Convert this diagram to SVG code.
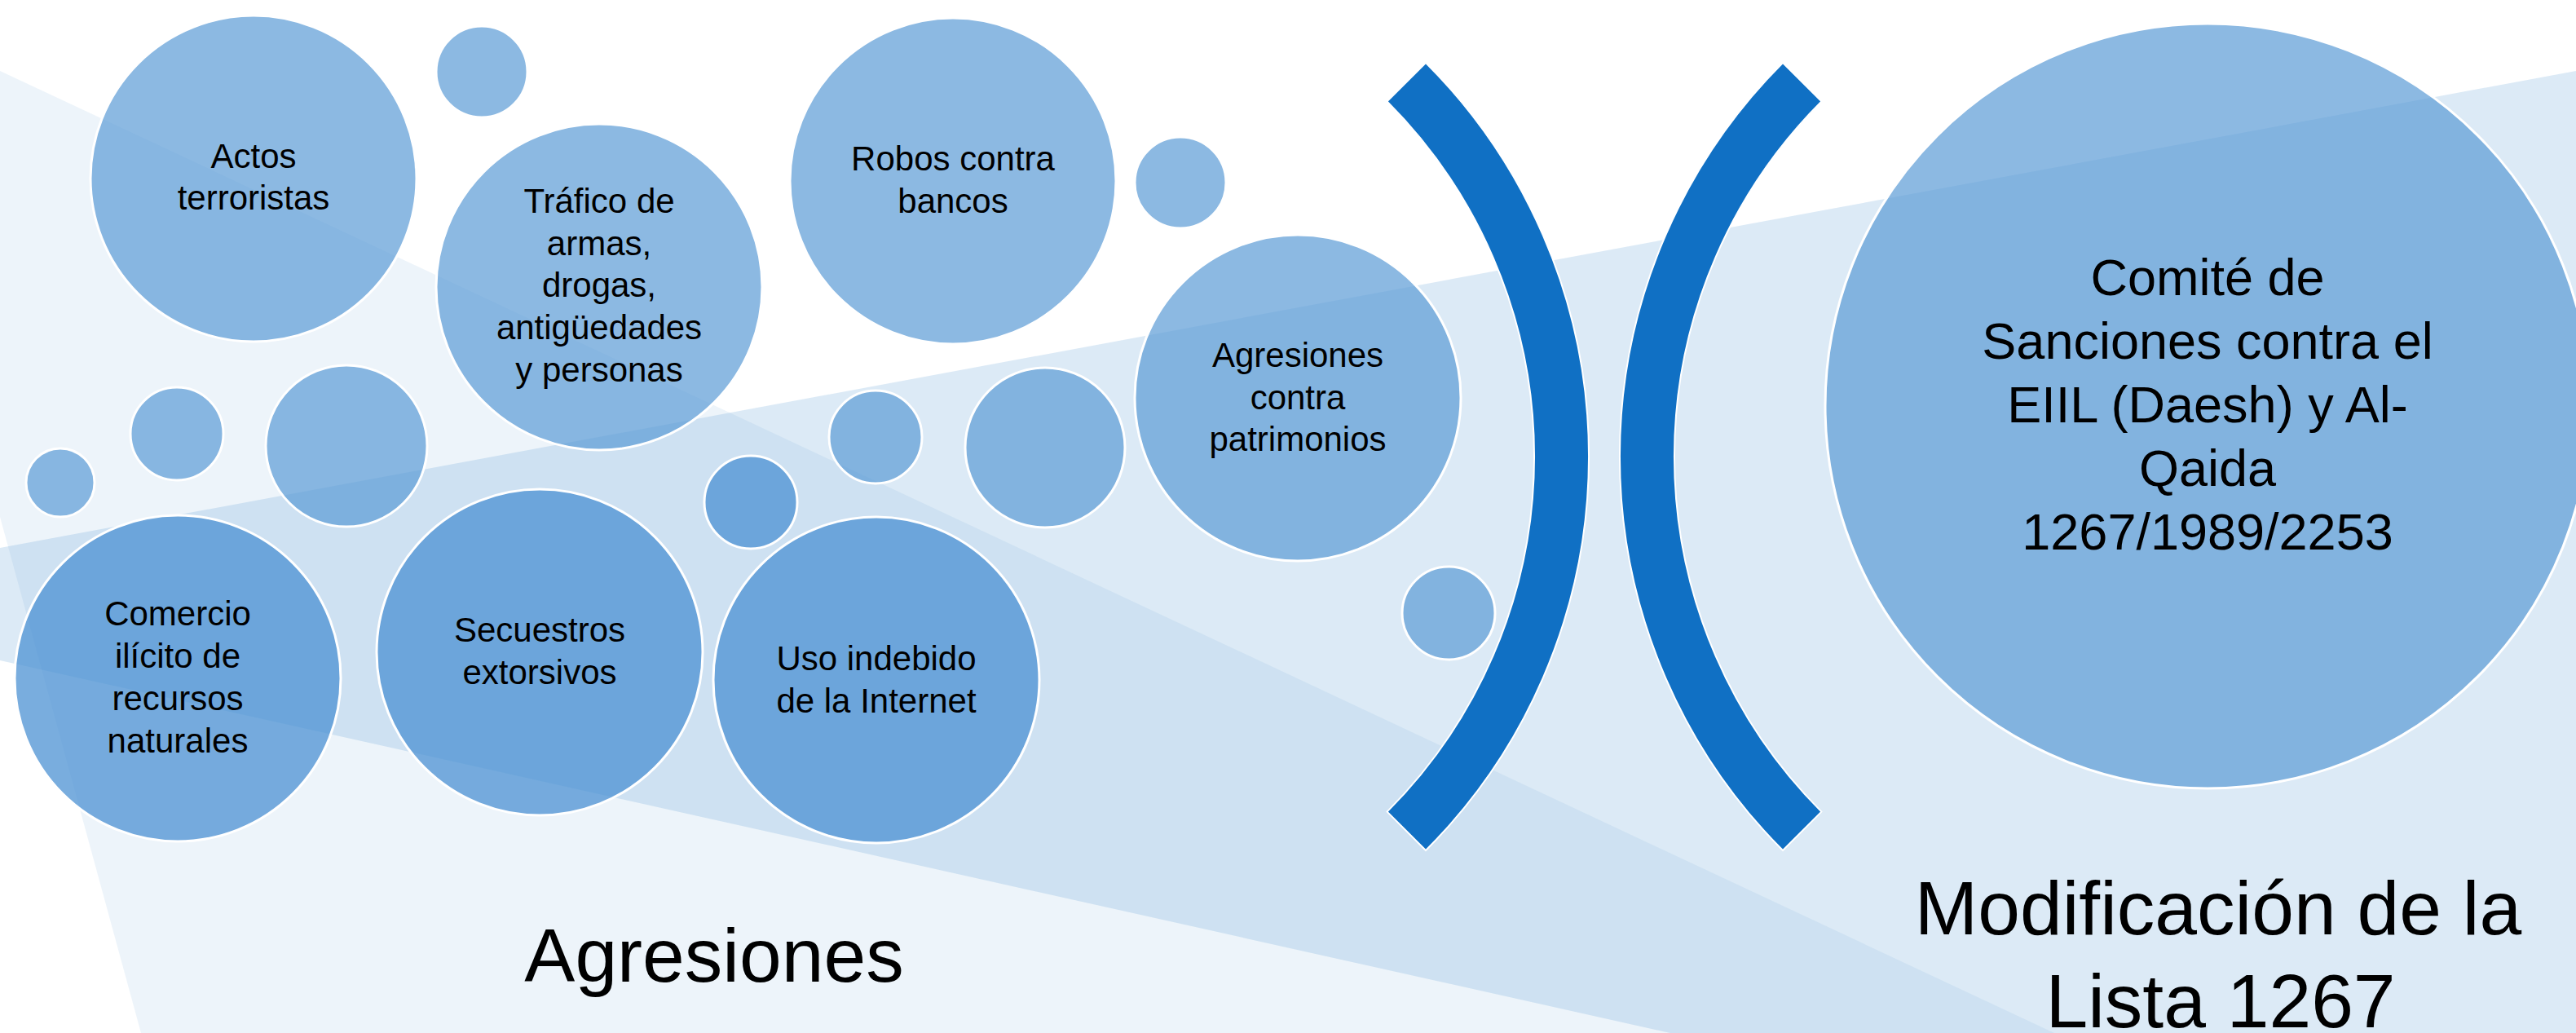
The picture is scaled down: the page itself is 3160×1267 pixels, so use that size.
<svg xmlns="http://www.w3.org/2000/svg" width="3160" height="1267" viewBox="0 0 3160 1267">
<style>
.bg1{fill:#5B9BD5;fill-opacity:0.11}
.bg2{fill:#5B9BD5;fill-opacity:0.21}
.c{fill:#5B9BD5;fill-opacity:0.7;stroke:#FFFFFF;stroke-width:3}
.cd{fill:#4A90D2;fill-opacity:0.74;stroke:#FFFFFF;stroke-width:3}
.br{fill:#1070C4;stroke:#FFFFFF;stroke-width:2}
.t{font-family:"Liberation Sans",Arial,sans-serif;font-size:42px;fill:#000000;text-anchor:middle}
.tb{font-family:"Liberation Sans",Arial,sans-serif;font-size:63px;fill:#000000;text-anchor:middle}
.tt{font-family:"Liberation Sans",Arial,sans-serif;font-size:93px;fill:#000000;text-anchor:middle}
</style>
<rect x="0" y="0" width="3160" height="1267" fill="#FFFFFF"/>
<g id="background">
<polygon class="bg1" points="0,87 2520,1267 173,1267 0,634"/>
<polygon class="bg2" points="0,672 3160,87 3160,1267 2049,1267 0,810"/>
</g>
<g id="small-circles">
<circle class="c" cx="591" cy="88" r="56"/>
<circle class="c" cx="1448" cy="224" r="56"/>
<circle class="c" cx="74" cy="592" r="42"/>
<circle class="c" cx="217" cy="532" r="57"/>
<circle class="c" cx="425" cy="547" r="99"/>
<circle class="cd" cx="921" cy="616" r="57"/>
<circle class="c" cx="1074" cy="536" r="57"/>
<circle class="c" cx="1282" cy="549" r="98"/>
<circle class="c" cx="1777" cy="752" r="57"/>
</g>
<g id="node-actos">
<circle class="c" cx="311" cy="219" r="200"/>
<text class="t" x="311" y="206">Actos</text>
<text class="t" x="311" y="257">terroristas</text>
</g>
<g id="node-trafico">
<circle class="c" cx="735" cy="352" r="200"/>
<text class="t" x="735" y="261">Tráfico de</text>
<text class="t" x="735" y="313">armas,</text>
<text class="t" x="735" y="364">drogas,</text>
<text class="t" x="735" y="416">antigüedades</text>
<text class="t" x="735" y="468">y personas</text>
</g>
<g id="node-robos">
<circle class="c" cx="1169" cy="222" r="200"/>
<text class="t" x="1169" y="209">Robos contra</text>
<text class="t" x="1169" y="261">bancos</text>
</g>
<g id="node-patrimonios">
<circle class="c" cx="1592" cy="488" r="200"/>
<text class="t" x="1592" y="450">Agresiones</text>
<text class="t" x="1592" y="502">contra</text>
<text class="t" x="1592" y="553">patrimonios</text>
</g>
<g id="node-comercio">
<circle class="cd" cx="218" cy="832" r="200"/>
<text class="t" x="218" y="767">Comercio</text>
<text class="t" x="218" y="819">ilícito de</text>
<text class="t" x="218" y="871">recursos</text>
<text class="t" x="218" y="923">naturales</text>
</g>
<g id="node-secuestros">
<circle class="cd" cx="662" cy="800" r="200"/>
<text class="t" x="662" y="787">Secuestros</text>
<text class="t" x="662" y="839">extorsivos</text>
</g>
<g id="node-internet">
<circle class="cd" cx="1075" cy="834" r="200"/>
<text class="t" x="1075" y="822">Uso indebido</text>
<text class="t" x="1075" y="874">de la Internet</text>
</g>
<g id="bracket-left">
<path class="br" d="M1749,77 A683,683 0 0 1 1749,1043 L1701.6,995.6 A616,616 0 0 0 1701.6,124.4 Z"/>
</g>
<g id="bracket-right">
<path class="br" d="M2187,77 A683,683 0 0 0 2187,1043 L2234.4,995.6 A616,616 0 0 1 2234.4,124.4 Z"/>
</g>
<g id="node-comite">
<circle class="c" cx="2708" cy="498" r="469"/>
<text class="tb" x="2708" y="362">Comité de</text>
<text class="tb" x="2708" y="440">Sanciones contra el</text>
<text class="tb" x="2708" y="518">EIIL (Daesh) y Al-</text>
<text class="tb" x="2708" y="596">Qaida</text>
<text class="tb" x="2708" y="674">1267/1989/2253</text>
</g>
<g id="title-agresiones">
<text class="tt" x="876" y="1204">Agresiones</text>
</g>
<g id="title-modificacion">
<text class="tt" x="2721" y="1146" font-size="98">Modificación de la</text>
<text class="tt" x="2724" y="1260" font-size="96">Lista 1267</text>
</g>
</svg>
